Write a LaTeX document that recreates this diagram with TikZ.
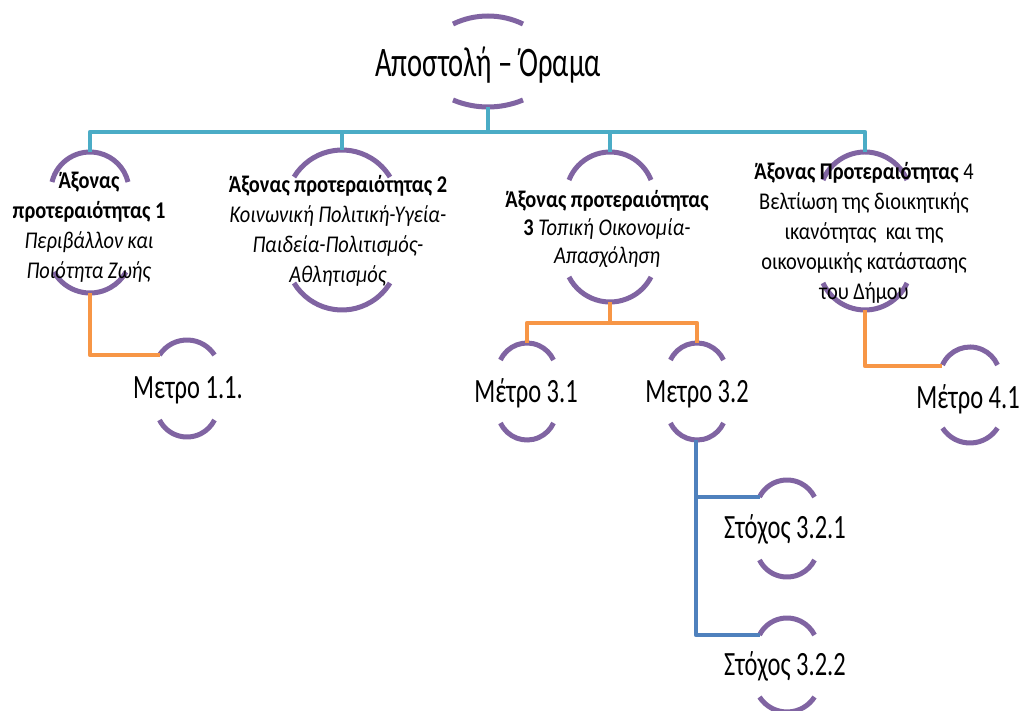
\documentclass[tikz,border=0pt]{standalone}
\usepackage{fontspec}
\setmainfont{Carlito}
\newfontfamily\rootfont{Carlito}[FakeStretch=0.68]
\newfontfamily\axfont{Carlito}[FakeStretch=0.85]
\newfontfamily\mfont{Carlito}[FakeStretch=0.72]
\definecolor{arcpurple}{HTML}{8064A2}
\definecolor{aqua}{HTML}{4BACC6}
\definecolor{orangeline}{HTML}{F79646}
\definecolor{blueline}{HTML}{4F81BD}
\newcommand\TopArc[4]{%
  \pgfmathsetmacro\myR{(#3*#3+#4*#4)/(2*#4)}%
  \pgfmathsetmacro\myPhi{asin(#3/\myR)}%
  \draw[arcline] (#1-#3,#2+#4) arc[start angle=270-\myPhi, end angle=270+\myPhi, radius=\myR];}
\newcommand\BotArc[4]{%
  \pgfmathsetmacro\myR{(#3*#3+#4*#4)/(2*#4)}%
  \pgfmathsetmacro\myPhi{asin(#3/\myR)}%
  \draw[arcline] (#1-#3,#2-#4) arc[start angle=90+\myPhi, end angle=90-\myPhi, radius=\myR];}
\begin{document}
\begin{tikzpicture}[x=1pt,y=-1pt,
  arcline/.style={draw=arcpurple,line width=5pt},
  aqualine/.style={draw=aqua,line width=4.5pt,line join=round},
  orline/.style={draw=orangeline,line width=4.5pt,line join=round},
  blline/.style={draw=blueline,line width=4.5pt,line join=round},
  roottext/.style={font={\rootfont\fontsize{42}{50}\selectfont},inner sep=0pt},
  axtext/.style={font={\axfont\fontsize{24}{30}\selectfont},align=center,inner sep=0pt},
  mtext/.style={font={\mfont\fontsize{34}{40}\selectfont},inner sep=0pt,anchor=base}]
\useasboundingbox (0,0) rectangle (1022,711);
\fill[white] (0,0) rectangle (1022,711);
\clip (0,0) rectangle (1022,711);
% ---------- root
\coordinate (roott) at (488,16);
\coordinate (rootb) at (488,107);
\TopArc{488}{16}{35}{8}
\BotArc{488}{107}{35}{7}
\node[roottext,anchor=base] (root) at (488,77) {Αποστολή – Όραμα};
% ---------- axes
\coordinate (ax1t) at (90,152);
\coordinate (ax1b) at (90,293);
\TopArc{90}{152}{38}{30}
\BotArc{90}{293}{36}{21}
\node[axtext] (ax1) at (89,227) {\textbf{Άξονας}\\\textbf{προτεραιότητας 1}\\\textit{Περιβάλλον και}\\\textit{Ποιότητα Ζωής}};
\coordinate (ax2t) at (342,150);
\coordinate (ax2b) at (342,310);
\TopArc{342}{150}{48}{27}
\BotArc{342}{310}{48}{27}
\node[axtext] (ax2) at (338,231) {\textbf{Άξονας προτεραιότητας 2}\\\textit{Κοινωνική Πολιτική-Υγεία-}\\\textit{Παιδεία-Πολιτισμός-}\\\textit{Αθλητισμός}};
\coordinate (ax3t) at (610,152);
\coordinate (ax3b) at (610,302);
\TopArc{610}{152}{41}{28}
\BotArc{610}{302}{41}{25}
\node[axtext,font={\axfont\fontsize{24}{28}\selectfont}] (ax3) at (607,229) {\textbf{Άξονας προτεραιότητας}\\\textbf{3} \textit{Τοπική Οικονομία-}\\\textit{Απασχόληση}};
\coordinate (ax4t) at (865,152);
\coordinate (ax4b) at (865,310);
\TopArc{865}{152}{42}{28}
\BotArc{865}{310}{42}{27}
\node[axtext] (ax4) at (864,233) {\textbf{Άξονας Προτεραιότητας} 4\\Βελτίωση της διοικητικής\\ικανότητας\ \ και της\\οικονομικής κατάστασης\\του Δήμου};
% ---------- measures
\coordinate (m11t) at (187,340);
\coordinate (m11l) at (160,355);
\TopArc{187}{340}{27.5}{15}
\BotArc{187}{437}{27.5}{17}
\node[mtext] (m11) at (188,398) {Μετρο 1.1.};
\coordinate (m31t) at (527,343);
\TopArc{527}{343}{26.5}{17}
\BotArc{527}{440}{26.5}{17}
\node[mtext] (m31) at (526,402) {Μέτρο 3.1};
\coordinate (m32t) at (697,343);
\coordinate (m32b) at (696,440);
\TopArc{697}{343}{26.5}{17}
\BotArc{697}{440}{26.5}{17}
\node[mtext] (m32) at (697,402) {Μετρο 3.2};
\coordinate (m41t) at (970,347);
\coordinate (m41l) at (942,366);
\TopArc{970}{347}{27.5}{18}
\BotArc{970}{443}{27.5}{15}
\node[mtext] (m41) at (968,408) {Μέτρο 4.1};
% ---------- targets
\coordinate (s321l) at (760,497);
\TopArc{787}{480}{27.5}{17}
\BotArc{787}{577}{27.5}{17}
\node[mtext] (s321) at (785,538) {Στόχος 3.2.1};
\coordinate (s322l) at (760,635);
\TopArc{787}{618}{27.5}{17}
\BotArc{787}{712}{27.5}{15}
\node[mtext] (s322) at (785,675) {Στόχος 3.2.2};
% ---------- connectors
\coordinate (bar) at (488,132);
\draw[aqualine] (rootb) -- (bar);
\draw[aqualine] (ax1t) |- (bar) -| (ax4t);
\draw[aqualine] (ax2t) -- (ax2t |- bar);
\draw[aqualine] (ax3t) -- (ax3t |- bar);
\draw[orline] (ax1b) |- (m11l);
\coordinate (ob3) at (610,323);
\draw[orline] (ax3b) -- (ob3);
\draw[orline] (m31t) |- (ob3) -| (m32t);
\draw[orline] (ax4b) |- (m41l);
\draw[blline] (m32b) |- (s321l);
\draw[blline] (m32b) |- (s322l);
\end{tikzpicture}
\end{document}
